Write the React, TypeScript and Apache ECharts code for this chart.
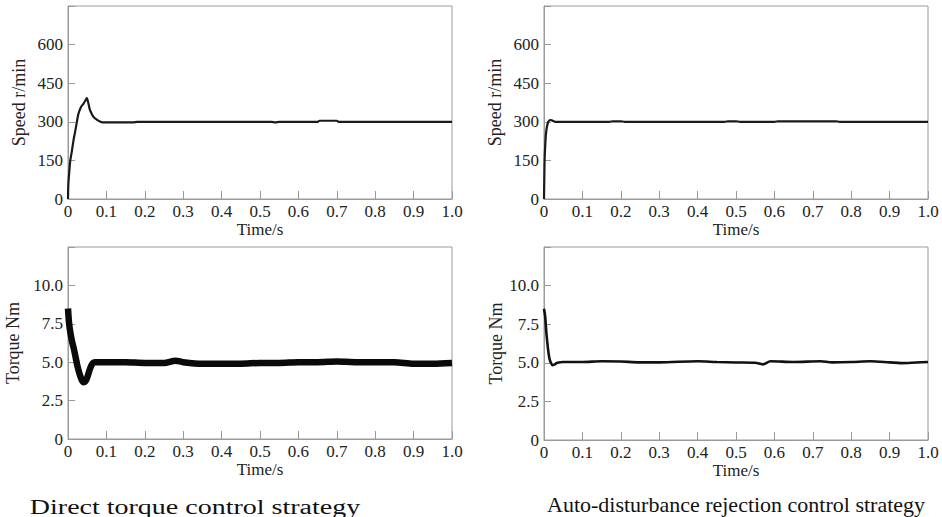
import React, { useEffect, useRef } from "react";
import * as echarts from "echarts";

// Speed, direct torque control (top-left)
const dtcSpeedTime = [0, 0.001, 0.003, 0.006, 0.01, 0.014, 0.018, 0.022, 0.027, 0.033, 0.04, 0.045, 0.049, 0.053, 0.057, 0.062, 0.066, 0.075, 0.083, 0.09, 0.1, 0.17, 0.18, 0.53, 0.54, 0.55, 0.65, 0.655, 0.7, 0.705, 1.0];
const dtcSpeed = [0, 60, 100, 150, 185, 225, 257, 290, 330, 355, 370, 382, 392, 372, 347, 330, 320, 308, 301, 298, 298, 298, 300, 300, 298, 300, 300, 304, 304, 300, 300];

// Speed, auto-disturbance rejection control (top-right)
const adrcSpeedTime = [0, 0.001, 0.002, 0.004, 0.006, 0.009, 0.012, 0.016, 0.02, 0.025, 0.03, 0.17, 0.18, 0.2, 0.21, 0.47, 0.48, 0.5, 0.51, 0.6, 0.61, 0.76, 0.77, 1.0];
const adrcSpeed = [0, 100, 170, 230, 265, 290, 302, 307, 306, 302, 300, 300, 302, 302, 300, 300, 302, 302, 300, 300, 302, 302, 300, 300];

// Torque, direct torque control (bottom-left)
const dtcTorqueTime = [0, 0.003, 0.007, 0.011, 0.015, 0.02, 0.025, 0.03, 0.035, 0.04, 0.045, 0.05, 0.055, 0.06, 0.065, 0.07, 0.1, 0.15, 0.2, 0.25, 0.28, 0.3, 0.35, 0.4, 0.45, 0.5, 0.55, 0.6, 0.65, 0.7, 0.75, 0.8, 0.85, 0.9, 0.95, 1.0];
const dtcTorque = [8.5, 7.5, 6.8, 6.3, 5.9, 5.3, 4.7, 4.25, 3.9, 3.7, 3.75, 4.0, 4.4, 4.75, 4.95, 5.0, 5.0, 5.0, 4.95, 4.95, 5.1, 5.0, 4.9, 4.9, 4.9, 4.95, 4.95, 5.0, 5.0, 5.05, 5.0, 5.0, 5.0, 4.9, 4.9, 4.95];

// Torque, auto-disturbance rejection control (bottom-right)
const adrcTorqueTime = [0, 0.003, 0.006, 0.01, 0.014, 0.018, 0.022, 0.028, 0.035, 0.05, 0.1, 0.15, 0.2, 0.25, 0.3, 0.4, 0.45, 0.5, 0.55, 0.57, 0.59, 0.65, 0.72, 0.75, 0.8, 0.85, 0.9, 0.93, 0.97, 1.0];
const adrcTorque = [8.5, 8.0, 7.0, 6.0, 5.3, 5.0, 4.85, 4.9, 5.0, 5.05, 5.05, 5.1, 5.08, 5.03, 5.03, 5.1, 5.05, 5.02, 5.0, 4.9, 5.1, 5.05, 5.1, 5.03, 5.05, 5.1, 5.03, 4.98, 5.02, 5.05];

const speedTicks = [0, 150, 300, 450, 600];
const torqueTicks = [0, 2.5, 5.0, 7.5, 10.0];
const subtitles = ["Direct torque control strategy", "Auto-disturbance rejection control strategy"];

const FONT = "Liberation Serif";
const GRAY = "#9a9a9a";

const pairs = (t: number[], v: number[]) => t.map((x, i) => [x, v[i]]);

function xAxisFor(gridIndex: number, nameGap: number) {
  return {
    type: "value",
    gridIndex,
    min: 0,
    max: 1,
    interval: 0.1,
    name: "Time/s",
    nameLocation: "middle",
    nameGap,
    nameTextStyle: { fontFamily: FONT, fontSize: 17, color: "#222" },
    axisLine: { show: true, lineStyle: { color: GRAY, width: 1 } },
    axisTick: { show: true, inside: true, length: 8, lineStyle: { color: GRAY } },
    splitLine: { show: false },
    axisLabel: {
      fontFamily: FONT,
      fontSize: 17,
      color: "#222",
      margin: 4,
      formatter: (v: number) => (v === 0 ? "0" : v.toFixed(1)),
    },
  };
}

function yAxisFor(gridIndex: number, kind: "speed" | "torque", nameGap: number) {
  const speed = kind === "speed";
  const ticks = speed ? speedTicks : torqueTicks;
  return {
    type: "value",
    gridIndex,
    min: 0,
    max: speed ? 750 : 12.5,
    interval: speed ? 150 : 2.5,
    name: speed ? "Speed r/min" : "Torque Nm",
    nameLocation: "middle",
    nameGap,
    nameTextStyle: { fontFamily: FONT, fontSize: 18, color: "#222" },
    axisLine: { show: true, lineStyle: { color: GRAY, width: 1 } },
    axisTick: { show: true, inside: true, length: 7, lineStyle: { color: GRAY } },
    splitLine: { show: false },
    axisLabel: {
      fontFamily: FONT,
      fontSize: 17,
      color: "#222",
      margin: 5,
      formatter: (v: number) => {
        if (!ticks.some((t) => Math.abs(t - v) < 1e-9)) return "";
        if (v === 0) return "0";
        return speed ? String(v) : v.toFixed(1);
      },
    },
  };
}

export default function App() {
  const ref = useRef<HTMLDivElement>(null);
  useEffect(() => {
    if (!ref.current) return;
    const chart = echarts.init(ref.current, null, { renderer: "svg" });
    const gridBase = { show: true, borderColor: GRAY, borderWidth: 1, backgroundColor: "#fff" };
    chart.setOption({
      animation: false,
      backgroundColor: "#fff",
      textStyle: { fontFamily: FONT },
      grid: [
        { ...gridBase, left: 68, top: 6, width: 384, height: 193 },
        { ...gridBase, left: 544, top: 6, width: 384, height: 193 },
        { ...gridBase, left: 68, top: 247, width: 384, height: 192 },
        { ...gridBase, left: 544, top: 247, width: 384, height: 193 },
      ],
      xAxis: [xAxisFor(0, 21), xAxisFor(1, 21), xAxisFor(2, 22), xAxisFor(3, 18)],
      yAxis: [
        yAxisFor(0, "speed", 40),
        yAxisFor(1, "speed", 40),
        yAxisFor(2, "torque", 46),
        yAxisFor(3, "torque", 38),
      ],
      series: [
        { type: "line", xAxisIndex: 0, yAxisIndex: 0, data: pairs(dtcSpeedTime, dtcSpeed), symbol: "none", smooth: 0.3, lineStyle: { color: "#1a1a1a", width: 2.2 } },
        { type: "line", xAxisIndex: 1, yAxisIndex: 1, data: pairs(adrcSpeedTime, adrcSpeed), symbol: "none", smooth: 0.3, lineStyle: { color: "#1a1a1a", width: 2.2 } },
        { type: "line", xAxisIndex: 2, yAxisIndex: 2, data: pairs(dtcTorqueTime, dtcTorque), symbol: "none", smooth: 0.3, lineStyle: { color: "#0a0a0a", width: 6.5 } },
        { type: "line", xAxisIndex: 3, yAxisIndex: 3, data: pairs(adrcTorqueTime, adrcTorque), symbol: "none", smooth: 0.3, lineStyle: { color: "#111", width: 2.6 } },
      ],
      graphic: [
        { type: "text", x: 195, y: 507, scaleX: 1.4, style: { text: subtitles[0], fontFamily: FONT, fontSize: 20, fill: "#111", textAlign: "center", textVerticalAlign: "middle" } },
        { type: "text", x: 736, y: 505, scaleX: 1.1, style: { text: subtitles[1], fontFamily: FONT, fontSize: 20, fill: "#111", textAlign: "center", textVerticalAlign: "middle" } },
      ],
    });
    return () => chart.dispose();
  }, []);
  return <div ref={ref} style={{ position: "absolute", left: 0, top: 0, width: 942, height: 517 }} />;
}
